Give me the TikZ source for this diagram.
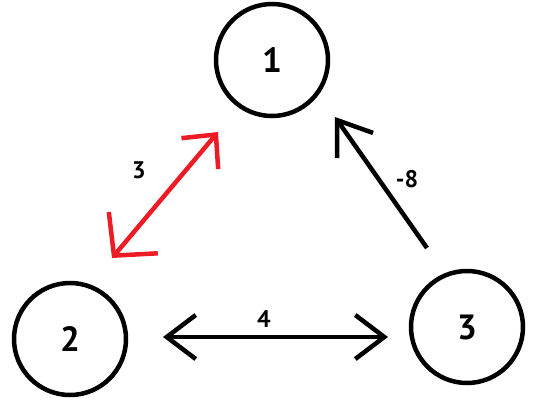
\documentclass[tikz,border=0pt]{standalone}
\usepackage{fontspec}
\setmainfont{PT Sans}
\usetikzlibrary{arrows.meta}
\definecolor{paintred}{RGB}{237,28,36}
\begin{document}
\begin{tikzpicture}[x=1pt,y=-1pt,
  state/.style={circle,draw,line width=4.5pt,minimum size=112pt,inner sep=0pt,font=\fontsize{35}{38}\selectfont\bfseries},
  lab/.style={font=\fontsize{24}{26}\selectfont\bfseries},
  conn/.style={line width=4.5pt}]
\useasboundingbox (0,0) rectangle (549,416);
\node[state] (n1) at (272,60) {1};
\node[state] (n2) at (70,339) {2};
\node[state] (n3) at (467,327) {3};
\coordinate (r2) at (112,258);
\coordinate (r1) at (218,132);
\coordinate (b3) at (427,248);
\coordinate (b1) at (335,117);
\coordinate (h2) at (163,337);
\coordinate (h3) at (388,337);
\draw[conn,paintred,{Straight Barb[length=30pt,width=64pt]}-{Straight Barb[length=25pt,width=48pt]}] (r2) -- (r1);
\draw[conn,-{Straight Barb[length=31pt,width=44pt]}] (b3) -- (b1);
\draw[conn,{Straight Barb[length=29pt,width=44pt]}-{Straight Barb[length=29pt,width=44pt]}] (h2) -- (h3);
\node[lab] (l3) at (139,170) {3};
\node[lab] (l8) at (407,179) {-8};
\node[lab] (l4) at (264,319) {4};
\end{tikzpicture}
\end{document}
